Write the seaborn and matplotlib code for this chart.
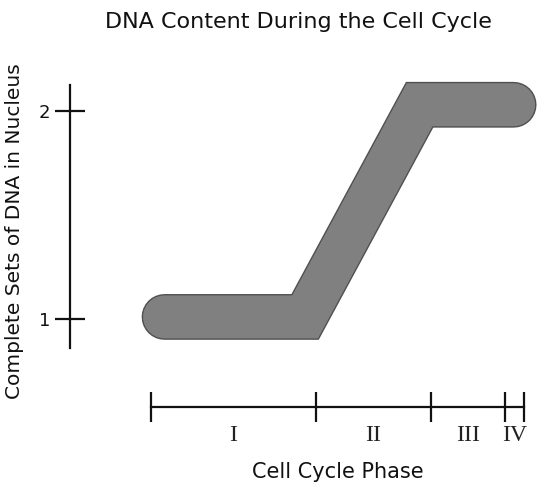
import numpy as np
import pandas as pd
import matplotlib
matplotlib.use('Agg')
import matplotlib.pyplot as plt
import matplotlib.patheffects as pe
import seaborn as sns

sns.set_theme(style='white')
plt.rcParams['font.family'] = ['DejaVu Sans']

# DNA content curve (arbitrary time units along the cycle)
time_pts = [0.42, 4.68, 8.15, 11.0]
dna_sets = [1.01, 1.01, 2.03, 2.03]

# phase boundaries and names
phase_edges = [0, 5, 8.5, 10.75, 11.3]
phase_names = ['I', 'II', 'III', 'IV']

y_ticks = [1, 2]

df = pd.DataFrame({'time': time_pts, 'dna': dna_sets})

fig = plt.figure(figsize=(5.49, 4.93), dpi=100)
ax = fig.add_axes([70/549, 1-407/493, 475/549, 322/493])

band_lw = 43 * 72 / 100
sns.lineplot(data=df, x='time', y='dna', ax=ax, estimator=None, sort=False,
             color='#808080', lw=band_lw, solid_capstyle='round',
             solid_joinstyle='miter', clip_on=False,
             path_effects=[pe.Stroke(linewidth=band_lw + 2, foreground='#505050'),
                           pe.Normal()])

ax.set_xlim(-2.445, 11.95)
ax.set_ylim(0.577, 2.125)

for s in ['top', 'right']:
    ax.spines[s].set_visible(False)
ax.spines['left'].set_bounds(0.86, 2.125)
ax.spines['bottom'].set_bounds(phase_edges[0], phase_edges[-1])
for s in ['left', 'bottom']:
    ax.spines[s].set_color('#111111')
    ax.spines[s].set_linewidth(1.6)

ax.set_yticks(y_ticks)
ax.set_yticklabels([str(v) for v in y_ticks])
ax.tick_params(axis='y', direction='inout', length=22, width=1.6,
               colors='#111111', labelsize=13, pad=3, left=True)

mids = [(a + b) / 2 for a, b in zip(phase_edges[:-1], phase_edges[1:])]
ax.set_xticks(phase_edges)
ax.set_xticklabels([''] * len(phase_edges))
ax.set_xticks(mids, minor=True)
ax.set_xticklabels(phase_names, minor=True, family='Liberation Serif', fontsize=17)
ax.tick_params(axis='x', which='major', direction='inout', length=22, width=1.6,
               colors='#111111', bottom=True)
ax.tick_params(axis='x', which='minor', length=0, pad=13, colors='#222222', bottom=True)

ax.set_xlabel('Cell Cycle Phase', fontsize=15, color='#111111')
ax.xaxis.set_label_coords((337.5 - 70) / 475, -0.17)
ax.set_ylabel('Complete Sets of DNA in Nucleus', fontsize=14.5, color='#111111')
ax.yaxis.label.set_va('center')
ax.yaxis.set_label_coords((15 - 70) / 475, (407 - 231) / 322)

fig.suptitle('DNA Content During the Cell Cycle', x=298/549, y=1-22/493,
             va='center', fontsize=16, color='#111111')

fig.savefig('out.png', dpi=100)
